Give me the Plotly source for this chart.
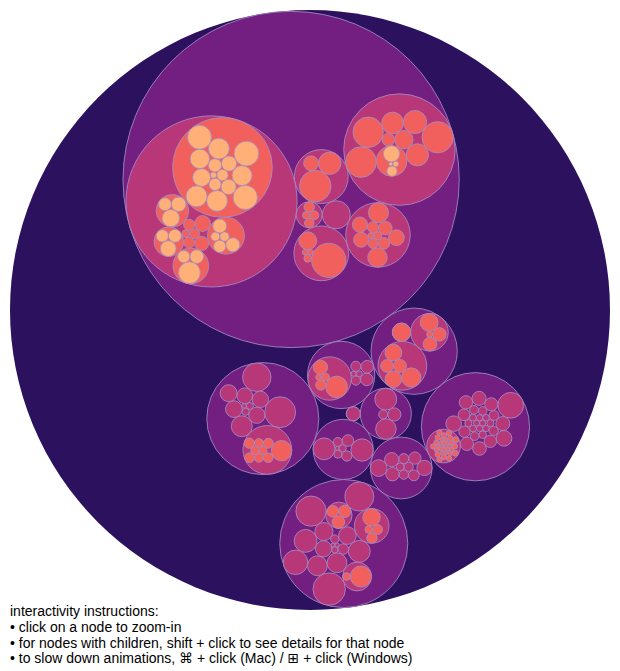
import math
import plotly.graph_objects as go

# flare class sizes, one list per package
cluster = [("AgglomerativeCluster", 3938), ("CommunityStructure", 3812),
           ("HierarchicalCluster", 6714), ("MergeEdge", 743)]
graph = [("BetweennessCentrality", 3534), ("LinkDistance", 5731), ("MaxFlowMinCut", 7840),
         ("ShortestPaths", 5914), ("SpanningTree", 3416)]
optimization = [("AspectRatioBanker", 7074)]

animate = [("Easing", 17010), ("FunctionSequence", 5842), ("ISchedulable", 1041),
           ("Parallel", 5176), ("Pause", 449), ("Scheduler", 5593), ("Sequence", 5534),
           ("Transition", 9201), ("Transitioner", 19975), ("TransitionEvent", 1116),
           ("Tween", 6006)]
interpolate = [("ArrayInterpolator", 1983), ("ColorInterpolator", 2047),
               ("DateInterpolator", 1375), ("Interpolator", 8746),
               ("MatrixInterpolator", 2202), ("NumberInterpolator", 1382),
               ("ObjectInterpolator", 1629), ("PointInterpolator", 1675),
               ("RectangleInterpolator", 2042)]

data = [("DataField", 1759), ("DataSchema", 2165), ("DataSet", 586), ("DataSource", 3331),
        ("DataTable", 772), ("DataUtil", 3322)]
converters = [("Converters", 721), ("DelimitedTextConverter", 4294),
              ("GraphMLConverter", 9800), ("IDataConverter", 1314), ("JSONConverter", 2220)]

display = [("DirtySprite", 8833), ("LineSprite", 1732), ("RectSprite", 3623),
           ("TextSprite", 10066)]
flex = [("FlareVis", 4116)]
physics = [("DragForce", 1082), ("GravityForce", 1336), ("IForce", 319),
           ("NBodyForce", 10498), ("Particle", 2822), ("Simulation", 9983),
           ("Spring", 2213), ("SpringForce", 1681)]

query = [("AggregateExpression", 1616), ("And", 1027), ("Arithmetic", 3891),
         ("Average", 891), ("BinaryExpression", 2893), ("Comparison", 5103),
         ("CompositeExpression", 3677), ("Count", 781), ("DateUtil", 4141),
         ("Distinct", 933), ("Expression", 5130), ("ExpressionIterator", 3617),
         ("Fn", 3240), ("If", 2732), ("IsA", 2039), ("Literal", 1214), ("Match", 3748),
         ("Maximum", 843), ("Minimum", 843), ("Not", 1554), ("Or", 970),
         ("Query", 13896), ("Range", 1594), ("StringUtil", 4130), ("Sum", 791),
         ("Variable", 1124), ("Variance", 1876), ("Xor", 1101)]
methods = [("add", 593), ("and", 330), ("average", 287), ("count", 277), ("distinct", 292),
           ("div", 595), ("eq", 594), ("fn", 460), ("gt", 603), ("gte", 625), ("iff", 748),
           ("isa", 461), ("lt", 597), ("lte", 619), ("max", 283), ("min", 283),
           ("mod", 591), ("mul", 603), ("neq", 599), ("not", 386), ("or", 323),
           ("orderby", 307), ("range", 772), ("select", 296), ("stddev", 363),
           ("sub", 600), ("sum", 280), ("update", 307), ("variance", 335),
           ("where", 299), ("xor", 354), ("_", 264)]

scale = [("IScaleMap", 2105), ("LinearScale", 1316), ("LogScale", 3151),
         ("OrdinalScale", 3770), ("QuantileScale", 2435), ("QuantitativeScale", 4839),
         ("RootScale", 1756), ("Scale", 4268), ("ScaleType", 1821), ("TimeScale", 5833)]

util = [("Arrays", 8258), ("Colors", 10001), ("Dates", 8217), ("Displays", 12555),
        ("Filter", 2324), ("Geometry", 10993), ("IEvaluable", 335), ("IPredicate", 383),
        ("IValueProxy", 874), ("Maths", 17705), ("Orientation", 1486), ("Property", 5559),
        ("Shapes", 19118), ("Sort", 6887), ("Stats", 6557), ("Strings", 22026)]
heap = [("FibonacciHeap", 9354), ("HeapNode", 1233)]
math_pkg = [("DenseMatrix", 3165), ("IMatrix", 2815), ("SparseMatrix", 3366)]
palette = [("ColorPalette", 6367), ("Palette", 1229), ("ShapePalette", 2059),
           ("SizePalette", 2291)]

vis = [("Visualization", 16540)]
axis = [("Axes", 1302), ("Axis", 24593), ("AxisGridLine", 652), ("AxisLabel", 636),
        ("CartesianAxes", 6703)]
controls = [("AnchorControl", 2138), ("ClickControl", 3824), ("Control", 1353),
            ("ControlList", 4665), ("DragControl", 2649), ("ExpandControl", 2832),
            ("HoverControl", 4896), ("IControl", 763), ("PanZoomControl", 5222),
            ("SelectionControl", 7862), ("TooltipControl", 8435)]
vis_data = [("Data", 20544), ("DataList", 19788), ("DataSprite", 10349),
            ("EdgeSprite", 3301), ("NodeSprite", 19382), ("ScaleBinding", 11275),
            ("Tree", 7147), ("TreeBuilder", 9930)]
render = [("ArrowType", 698), ("EdgeRenderer", 5569), ("IRenderer", 353),
          ("ShapeRenderer", 2247)]
events = [("DataEvent", 2313), ("SelectionEvent", 1880), ("TooltipEvent", 1701),
          ("VisualizationEvent", 1117)]
legend = [("Legend", 20859), ("LegendItem", 4614), ("LegendRange", 10530)]
operator = [("IOperator", 1286), ("Operator", 2490), ("OperatorList", 5248),
            ("OperatorSequence", 4190), ("OperatorSwitch", 2581), ("SortOperator", 2023)]
distortion = [("BifocalDistortion", 4461), ("Distortion", 6314),
              ("FisheyeDistortion", 3444)]
encoder = [("ColorEncoder", 3179), ("Encoder", 4060), ("PropertyEncoder", 4138),
           ("ShapeEncoder", 1690), ("SizeEncoder", 1830)]
filter_pkg = [("FisheyeTreeFilter", 5219), ("GraphDistanceFilter", 3165),
              ("VisibilityFilter", 3509)]
label = [("Labeler", 9956), ("RadialLabeler", 3899), ("StackedAreaLabeler", 3202)]
layout = [("AxisLayout", 6725), ("BundledEdgeRouter", 3727), ("CircleLayout", 9317),
          ("CirclePackingLayout", 12003), ("DendrogramLayout", 4853),
          ("ForceDirectedLayout", 8411), ("IcicleTreeLayout", 4864),
          ("IndentedTreeLayout", 3174), ("Layout", 7881), ("NodeLinkTreeLayout", 12870),
          ("PieLayout", 2728), ("RadialTreeLayout", 12348), ("RandomLayout", 870),
          ("StackedAreaLayout", 9121), ("TreeMapLayout", 9191)]

# fill colour per depth (magma)
depth_colors = ["#2c115f", "#721f81", "#b73779", "#f1605d", "#feb078"]
instructions = [
    "interactivity instructions:",
    "• click on a node to zoom-in",
    "• for nodes with children, shift + click to see details for that node",
    "• to slow down animations, ⌘ + click (Mac) / ⊞ + click (Windows)",
]


def leaves(lst):
    return [{"name": n, "value": v} for n, v in lst]


def node(name, kids):
    return {"name": name, "children": kids}


root = node("flare", [
    node("analytics", [node("cluster", leaves(cluster)), node("graph", leaves(graph)),
                       node("optimization", leaves(optimization))]),
    node("animate", leaves(animate) + [node("interpolate", leaves(interpolate))]),
    node("data", [node("converters", leaves(converters))] + leaves(data)),
    node("display", leaves(display)),
    node("flex", leaves(flex)),
    node("physics", leaves(physics)),
    node("query", leaves(query) + [node("methods", leaves(methods))]),
    node("scale", leaves(scale)),
    node("util", leaves(util) + [node("heap", leaves(heap)), node("math", leaves(math_pkg)),
                                 node("palette", leaves(palette))]),
    node("vis", [node("axis", leaves(axis)), node("controls", leaves(controls)),
                 node("data", leaves(vis_data) + [node("render", leaves(render))]),
                 node("events", leaves(events)), node("legend", leaves(legend)),
                 node("operator", [node("distortion", leaves(distortion)),
                                   node("encoder", leaves(encoder)),
                                   node("filter", leaves(filter_pkg)),
                                   node("label", leaves(label)),
                                   node("layout", leaves(layout))] + leaves(operator))]
         + leaves(vis)),
])


# ---- hierarchy helpers ----
def sum_sort(n, depth=0):
    n["depth"] = depth
    if "children" in n:
        for c in n["children"]:
            sum_sort(c, depth + 1)
        n["value"] = sum(c["value"] for c in n["children"])
        n["children"].sort(key=lambda c: c["value"])
    return n


def post_order(n):
    for c in n.get("children", []):
        yield from post_order(c)
    yield n


def pre_order(n):
    yield n
    for c in n.get("children", []):
        yield from pre_order(c)


# ---- d3-style circle packing ----
class Link:
    def __init__(self, c):
        self.c = c
        self.next = None
        self.prev = None


def place(b, a, c):
    dx = b["x"] - a["x"]
    dy = b["y"] - a["y"]
    d2 = dx * dx + dy * dy
    if d2:
        a2 = (a["r"] + c["r"]) ** 2
        b2 = (b["r"] + c["r"]) ** 2
        if a2 > b2:
            x = (d2 + b2 - a2) / (2 * d2)
            y = math.sqrt(max(0, b2 / d2 - x * x))
            c["x"] = b["x"] - x * dx - y * dy
            c["y"] = b["y"] - x * dy + y * dx
        else:
            x = (d2 + a2 - b2) / (2 * d2)
            y = math.sqrt(max(0, a2 / d2 - x * x))
            c["x"] = a["x"] + x * dx - y * dy
            c["y"] = a["y"] + x * dy + y * dx
    else:
        c["x"] = a["x"] + c["r"]
        c["y"] = a["y"]


def intersects(a, b):
    dr = a["r"] + b["r"] - 1e-6
    dx = b["x"] - a["x"]
    dy = b["y"] - a["y"]
    return dr > 0 and dr * dr > dx * dx + dy * dy


def score(lk):
    a, b = lk.c, lk.next.c
    ab = a["r"] + b["r"]
    dx = (a["x"] * b["r"] + b["x"] * a["r"]) / ab
    dy = (a["y"] * b["r"] + b["y"] * a["r"]) / ab
    return dx * dx + dy * dy


def encloses_not(a, b):
    dr = a["r"] - b["r"]
    dx = b["x"] - a["x"]
    dy = b["y"] - a["y"]
    return dr < 0 or dr * dr < dx * dx + dy * dy


def encloses_weak(a, b):
    dr = a["r"] - b["r"] + max(a["r"], b["r"], 1) * 1e-9
    dx = b["x"] - a["x"]
    dy = b["y"] - a["y"]
    return dr > 0 and dr * dr > dx * dx + dy * dy


def encloses_weak_all(a, B):
    return all(encloses_weak(a, b) for b in B)


def basis2(a, b):
    x21, y21, r21 = b["x"] - a["x"], b["y"] - a["y"], b["r"] - a["r"]
    l = math.sqrt(x21 * x21 + y21 * y21)
    return {"x": (a["x"] + b["x"] + x21 / l * r21) / 2,
            "y": (a["y"] + b["y"] + y21 / l * r21) / 2,
            "r": (l + a["r"] + b["r"]) / 2}


def basis3(a, b, c):
    x1, y1, r1 = a["x"], a["y"], a["r"]
    x2, y2, r2 = b["x"], b["y"], b["r"]
    x3, y3, r3 = c["x"], c["y"], c["r"]
    a2, a3, b2, b3 = x1 - x2, x1 - x3, y1 - y2, y1 - y3
    c2, c3 = r2 - r1, r3 - r1
    d1 = x1 * x1 + y1 * y1 - r1 * r1
    d2 = d1 - x2 * x2 - y2 * y2 + r2 * r2
    d3 = d1 - x3 * x3 - y3 * y3 + r3 * r3
    ab = a3 * b2 - a2 * b3
    xa = (b2 * d3 - b3 * d2) / (ab * 2) - x1
    xb = (b3 * c2 - b2 * c3) / ab
    ya = (a3 * d2 - a2 * d3) / (ab * 2) - y1
    yb = (a2 * c3 - a3 * c2) / ab
    A = xb * xb + yb * yb - 1
    Bq = 2 * (r1 + xa * xb + ya * yb)
    C = xa * xa + ya * ya - r1 * r1
    if abs(A) > 1e-6:
        r = -(Bq + math.sqrt(max(0, Bq * Bq - 4 * A * C))) / (2 * A)
    else:
        r = -(C / Bq)
    return {"x": x1 + xa + xb * r, "y": y1 + ya + yb * r, "r": r}


def basis(B):
    if len(B) == 1:
        return dict(B[0])
    if len(B) == 2:
        return basis2(*B)
    return basis3(*B)


def extend_basis(B, p):
    if encloses_weak_all(p, B):
        return [p]
    for bi in B:
        if encloses_not(p, bi) and encloses_weak_all(basis2(bi, p), B):
            return [bi, p]
    for i in range(len(B) - 1):
        for j in range(i + 1, len(B)):
            if (encloses_not(basis2(B[i], B[j]), p)
                    and encloses_not(basis2(B[i], p), B[j])
                    and encloses_not(basis2(B[j], p), B[i])
                    and encloses_weak_all(basis3(B[i], B[j], p), B)):
                return [B[i], B[j], p]
    raise ValueError


_seed = [1]


def lcg():
    _seed[0] = (1664525 * _seed[0] + 1013904223) % 4294967296
    return _seed[0] / 4294967296


def enclose(circles):
    circles = list(circles)
    m = len(circles)
    while m:
        i = int(lcg() * m)
        m -= 1
        circles[m], circles[i] = circles[i], circles[m]
    i, B, e = 0, [], None
    while i < len(circles):
        p = circles[i]
        if e is not None and encloses_weak(e, p):
            i += 1
        else:
            B = extend_basis(B, p)
            e = basis(B)
            i = 0
    return e


def pack_siblings(circles):
    n = len(circles)
    a = circles[0]
    a["x"], a["y"] = 0.0, 0.0
    if n == 1:
        return a["r"]
    b = circles[1]
    a["x"] = -b["r"]
    b["x"], b["y"] = a["r"], 0.0
    if n == 2:
        return a["r"] + b["r"]
    place(b, a, circles[2])
    a, b, c = Link(a), Link(b), Link(circles[2])
    a.next = c.prev = b
    b.next = a.prev = c
    c.next = b.prev = a
    i = 3
    while i < n:
        place(a.c, b.c, circles[i])
        c = Link(circles[i])
        j, k, sj, sk = b.next, a.prev, b.c["r"], a.c["r"]
        hit = False
        while True:
            if sj <= sk:
                if intersects(j.c, c.c):
                    b = j
                    a.next, b.prev = b, a
                    hit = True
                    break
                sj += j.c["r"]
                j = j.next
            else:
                if intersects(k.c, c.c):
                    a = k
                    a.next, b.prev = b, a
                    hit = True
                    break
                sk += k.c["r"]
                k = k.prev
            if j is k.next:
                break
        if hit:
            continue
        c.prev, c.next = a, b
        a.next = c
        b.prev = c
        b = c
        aa = score(a)
        c = c.next
        while c is not b:
            ca = score(c)
            if ca < aa:
                a, aa = c, ca
            c = c.next
        b = a.next
        i += 1
    chain = [b.c]
    c = b.next
    while c is not b:
        chain.append(c.c)
        c = c.next
    e = enclose(chain)
    for ci in circles:
        ci["x"] -= e["x"]
        ci["y"] -= e["y"]
    return e["r"]


def pack(tree, size):
    # no padding: leaves get r = sqrt(value), parents enclose their children
    tree["x"] = tree["y"] = size / 2
    for n in post_order(tree):
        if "children" in n:
            n["r"] = pack_siblings(n["children"])
        else:
            n["r"] = math.sqrt(n["value"])
    s = size / (2 * tree["r"])
    tree["r"] *= s
    for n in pre_order(tree):
        for c in n.get("children", []):
            c["r"] *= s
            c["x"] = n["x"] + s * c["x"]
            c["y"] = n["y"] + s * c["y"]


sum_sort(root)
pack(root, 600)

shapes = []
for n in pre_order(root):
    shapes.append(dict(
        type="circle", xref="x", yref="y",
        x0=n["x"] - n["r"], x1=n["x"] + n["r"],
        y0=n["y"] - n["r"], y1=n["y"] + n["r"],
        fillcolor=depth_colors[n["depth"]],
        line=dict(color="rgba(165,140,195,0.85)", width=0 if n["depth"] == 0 else 1),
        layer="above",
    ))

fig = go.Figure()
fig.update_layout(
    width=620, height=671,
    margin=dict(l=0, r=0, t=0, b=0),
    paper_bgcolor="white", plot_bgcolor="white",
    showlegend=False,
    shapes=shapes,
    xaxis=dict(range=[-10, 610], visible=False, fixedrange=True),
    yaxis=dict(range=[661, -10], visible=False, fixedrange=True),
    font=dict(family="Liberation Sans, Arial, DejaVu Sans, sans-serif", size=14,
              color="black"),
)

# instruction lines below the circles
line_mid = [610.8, 627.2, 642.8, 658.4]
for txt, ym in zip(instructions, line_mid):
    fig.add_annotation(
        xref="paper", yref="paper", x=8 / 620, y=1 - ym / 671,
        xanchor="left", yanchor="middle", align="left", showarrow=False,
        text=txt,
    )

fig.write_html("out.html", config={"displayModeBar": False},
               post_script="document.body.style.margin='0';document.body.style.overflow='hidden';")
